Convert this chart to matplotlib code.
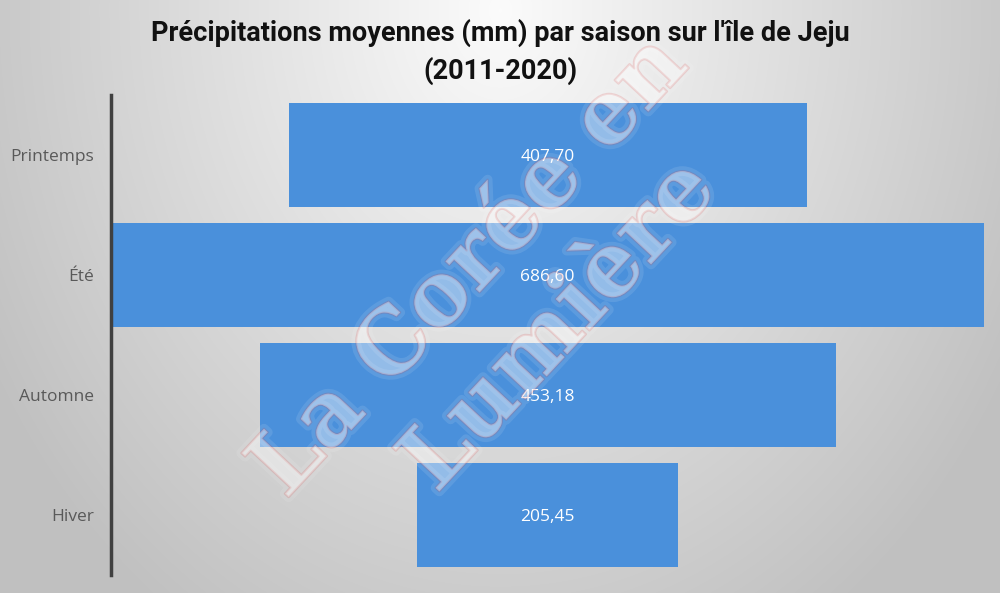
import numpy as np
import matplotlib
matplotlib.use("Agg")
import matplotlib.pyplot as plt
import matplotlib.patheffects as pe

categories = ["Printemps", "Été", "Automne", "Hiver"]
values = [407.70, 686.60, 453.18, 205.45]
value_labels = ["407,70", "686,60", "453,18", "205,45"]
title = "Précipitations moyennes (mm) par saison sur l'île de Jeju\n(2011-2020)"

W, H = 1000, 593
fig = plt.figure(figsize=(W / 100, H / 100), dpi=100)

# background radial gradient
bg = fig.add_axes([0, 0, 1, 1], zorder=-10)
yy, xx = np.mgrid[0:H, 0:W]
r = np.sqrt(((xx - 500) / 560.0) ** 2 + ((yy - 10) / 700.0) ** 2)
val = 0.985 - 0.22 * np.clip(r, 0, 1.05)
img = np.dstack([val, val, val])
bg.imshow(img, aspect="auto", extent=[0, 1, 0, 1])
bg.axis("off")

ax = fig.add_axes([111 / W, 1 - 575 / H, 876 / W, 480 / H])
ax.patch.set_alpha(0)
maxv = max(values)
y = np.arange(len(categories))
lefts = [-v / 2 for v in values]
ax.barh(y, values, left=lefts, height=0.86, color="#4A90DB", zorder=2)
for yi, v, lab in zip(y, values, value_labels):
    ax.text(0, yi + 0.02, lab, ha="center", va="center", color="white",
            fontsize=12.5, family=["Open Sans", "DejaVu Sans"], zorder=3)
ax.set_xlim(-maxv / 2 - 0.5, maxv / 2 + 2.5)
ax.set_ylim(3.5, -0.5)
ax.set_yticks(y)
ax.set_yticklabels(categories, fontsize=12.5, color="#595959",
                   family=["Open Sans", "DejaVu Sans"])
ax.tick_params(axis="y", length=0, pad=12)
ax.set_xticks([])
for s in ["top", "right", "bottom"]:
    ax.spines[s].set_visible(False)
ax.spines["left"].set_color("#404040")
ax.spines["left"].set_linewidth(2.5)

fig.text(0.5, 0.912, title, ha="center", va="center", fontsize=19.5,
         fontweight="bold", linespacing=1.45,
         family=["Roboto", "DejaVu Sans"], color="#111111")

# watermark
wm_kw = dict(ha="center", va="center", rotation=47, fontsize=64,
             fontweight="bold", family=["DejaVu Serif"], color=(1, 1, 1, 0.16),
             zorder=20)
t1 = fig.text(0.47, 0.55, "La Corée en", **wm_kw)
t2 = fig.text(0.56, 0.45, "Lumière", **wm_kw)
for t in (t1, t2):
    t.set_path_effects([
        pe.Stroke(linewidth=7, foreground=(1, 1, 1, 0.10)),
        pe.withStroke(linewidth=1.5, foreground=(0.85, 0.2, 0.2, 0.16)),
    ])

fig.savefig("out.png", dpi=100)
